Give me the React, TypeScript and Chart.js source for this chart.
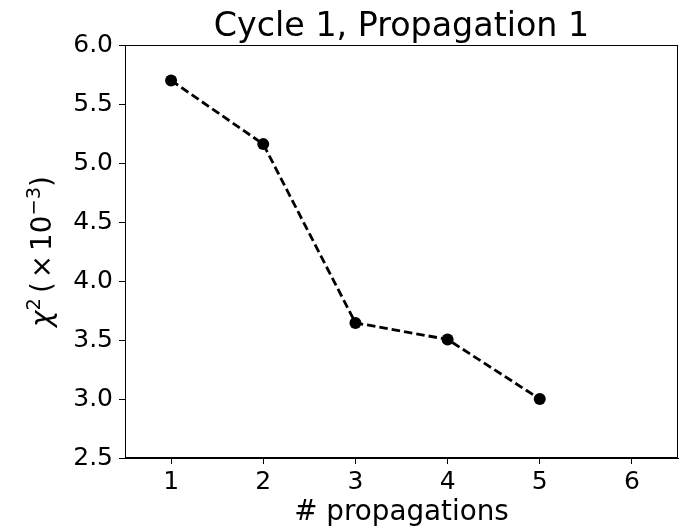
import React, { useEffect, useRef } from "react";
import { Chart, registerables } from "chart.js";

Chart.register(...registerables);

const propagations = [1, 2, 3, 4, 5];
const chiSquared = [5.70, 5.16, 3.645, 3.505, 3.0];
const xTicks = [1, 2, 3, 4, 5, 6];
const yTicks = [2.5, 3.0, 3.5, 4.0, 4.5, 5.0, 5.5, 6.0];
const titleText = "Cycle 1, Propagation 1";
const xLabel = "# propagations";

const FONT = "'DejaVu Sans', sans-serif";
const TITLE_SIZE = 33.3;
const LABEL_SIZE = 27.8;
const TICK_SIZE = 25;

// Draws the plot frame, the title, the x label and the mathtext-style y label.
const decorPlugin = {
  id: "decor",
  afterDraw(chart: any) {
    const { ctx, chartArea } = chart;
    ctx.save();
    ctx.strokeStyle = "#000";
    ctx.lineWidth = 1;
    ctx.strokeRect(
      Math.round(chartArea.left) + 0.5,
      Math.round(chartArea.top) + 0.5,
      Math.round(chartArea.right - chartArea.left) - 1,
      Math.round(chartArea.bottom - chartArea.top) - 1
    );

    const cx = (chartArea.left + chartArea.right) / 2;
    ctx.fillStyle = "#000";
    ctx.textBaseline = "alphabetic";
    ctx.textAlign = "center";
    ctx.font = `${TITLE_SIZE}px ${FONT}`;
    ctx.fillText(titleText, cx, 35.5);
    ctx.font = `${LABEL_SIZE}px ${FONT}`;
    ctx.fillText(xLabel, cx, 520);

    // y label: χ² (×10⁻³), rotated, with math-style spacing round ×
    const cy = (chartArea.top + chartArea.bottom) / 2;
    ctx.translate(51, cy);
    ctx.rotate(-Math.PI / 2);
    ctx.textAlign = "left";
    const sup = LABEL_SIZE * 0.7;
    const parts = [
      { t: "χ", f: `oblique ${LABEL_SIZE}px ${FONT}`, dy: 0, gap: 0 },
      { t: "2", f: `${sup}px ${FONT}`, dy: -11, gap: 5 },
      { t: "(", f: `${LABEL_SIZE}px ${FONT}`, dy: 0, gap: 4 },
      { t: "×", f: `${LABEL_SIZE}px ${FONT}`, dy: 0, gap: 4 },
      { t: "10", f: `${LABEL_SIZE}px ${FONT}`, dy: 0, gap: 0 },
      { t: "−3", f: `${sup}px ${FONT}`, dy: -11, gap: 0 },
      { t: ")", f: `${LABEL_SIZE}px ${FONT}`, dy: 0, gap: 0 },
    ];
    let total = 0;
    for (const p of parts) {
      ctx.font = p.f;
      total += ctx.measureText(p.t).width + p.gap;
    }
    let x = -total / 2;
    for (const p of parts) {
      ctx.font = p.f;
      ctx.fillText(p.t, x, p.dy);
      x += ctx.measureText(p.t).width + p.gap;
    }
    ctx.restore();
  },
};

export default function App() {
  const canvasRef = useRef<HTMLCanvasElement | null>(null);

  useEffect(() => {
    document.body.style.margin = "0";
    const canvas = canvasRef.current;
    if (!canvas) return;
    const chart = new Chart(canvas, {
      type: "line",
      data: {
        datasets: [
          {
            data: propagations.map((p, i) => ({ x: p, y: chiSquared[i] })),
            borderColor: "#000",
            backgroundColor: "#000",
            borderWidth: 2.8,
            borderDash: [8.5, 4],
            pointRadius: 6,
            pointBackgroundColor: "#000",
            pointBorderWidth: 0,
            tension: 0,
          },
        ],
      },
      options: {
        responsive: false,
        animation: false,
        devicePixelRatio: 1,
        layout: {
          autoPadding: false,
          padding: { left: 0, right: 3, top: 45, bottom: 0 },
        },
        plugins: {
          legend: { display: false },
          tooltip: { enabled: false },
          title: { display: false },
        },
        scales: {
          x: {
            type: "linear",
            min: 0.5,
            max: 6.5,
            afterBuildTicks: (s: any) => {
              s.ticks = xTicks.map((v) => ({ value: v }));
            },
            afterFit: (s: any) => {
              s.height = 70;
              s.paddingLeft = 0;
              s.paddingRight = 0;
            },
            grid: {
              drawOnChartArea: false,
              drawTicks: true,
              tickLength: 6,
              color: "#000",
            },
            border: { display: true, color: "#000", width: 1 },
            ticks: {
              color: "#000",
              font: { family: FONT, size: TICK_SIZE },
              padding: 3,
              maxRotation: 0,
              callback: (v: any) => String(v),
            },
          },
          y: {
            type: "linear",
            min: 2.5,
            max: 6.0,
            afterBuildTicks: (s: any) => {
              s.ticks = yTicks.map((v) => ({ value: v }));
            },
            afterFit: (s: any) => {
              s.width = 125;
              s.paddingTop = 0;
              s.paddingBottom = 0;
            },
            grid: {
              drawOnChartArea: false,
              drawTicks: true,
              tickLength: 6,
              color: "#000",
            },
            border: { display: true, color: "#000", width: 1 },
            ticks: {
              color: "#000",
              font: { family: FONT, size: TICK_SIZE },
              padding: 6,
              callback: (v: any) => Number(v).toFixed(1),
            },
          },
        },
      },
      plugins: [decorPlugin],
    });
    return () => chart.destroy();
  }, []);

  return (
    <div style={{ width: 681, height: 528 }}>
      <canvas ref={canvasRef} width={681} height={528} />
    </div>
  );
}
